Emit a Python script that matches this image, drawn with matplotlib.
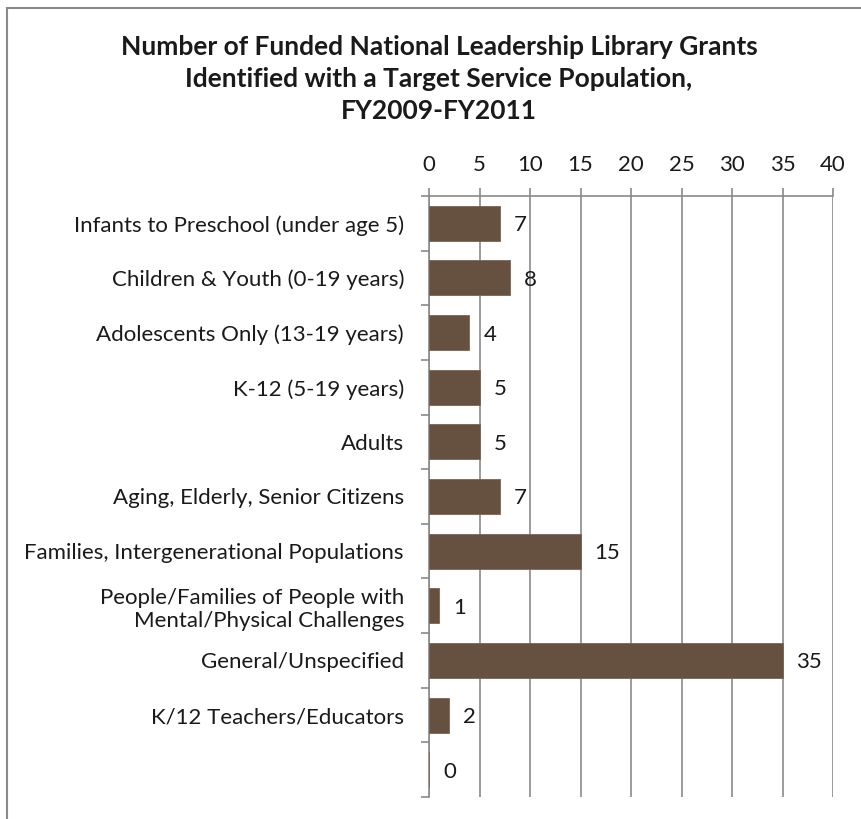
import matplotlib
matplotlib.use("Agg")
import matplotlib.pyplot as plt
from matplotlib.patches import Rectangle
import numpy as np

categories = [
    "Infants to Preschool (under age 5)",
    "Children & Youth (0-19 years)",
    "Adolescents Only (13-19 years)",
    "K-12 (5-19 years)",
    "Adults",
    "Aging, Elderly, Senior Citizens",
    "Families, Intergenerational Populations",
    "People/Families of People with\nMental/Physical Challenges",
    "General/Unspecified",
    "K/12 Teachers/Educators",
    "",
]
values = [7, 8, 4, 5, 5, 7, 15, 1, 35, 2, 0]
x_ticks = [0, 5, 10, 15, 20, 25, 30, 35, 40]
title = ("Number of Funded National Leadership Library Grants\n"
         "Identified with a Target Service Population,\n"
         "FY2009-FY2011")

W, H = 861, 819
plt.rcParams['font.family'] = ['Lato', 'DejaVu Sans']
fig = plt.figure(figsize=(W / 100, H / 100), dpi=100)

# outer chart frame (cropped at right and bottom)
fig.patches.append(Rectangle((7 / W, -0.05), 1.0, 1 - 8 / H + 0.05,
                             transform=fig.transFigure, fill=False,
                             edgecolor='#8a8a8a', linewidth=1.5))

ax_left, ax_right, ax_top, ax_bot = 429, 833, 196, 797
ax = fig.add_axes([ax_left / W, 1 - ax_bot / H, (ax_right - ax_left) / W,
                   (ax_bot - ax_top) / H])

FS = 16
n = len(categories)
y = np.arange(n)
ax.barh(y, values, height=0.64, color='#665040', edgecolor='#7a6556',
        linewidth=0.6, zorder=3)
for yi, v in zip(y, values):
    ax.annotate(str(v), (v, yi), xytext=(10, 0), textcoords='offset points',
                ha='left', va='center_baseline', fontsize=FS, color='#1a1a1a')

ax.set_xlim(0, 40)
ax.set_ylim(n - 0.5, -0.5)
ax.xaxis.tick_top()
ax.set_xticks(x_ticks)
ax.set_xticklabels([str(t) for t in x_ticks], fontsize=FS, color='#1a1a1a')
ax.tick_params(axis='x', direction='out', length=6, width=1.2,
               color='#8a8a8a', pad=9)
ax.grid(axis='x', color='#8a8a8a', linewidth=1.2, zorder=0)

ax.set_yticks(y)
ax.set_yticklabels(categories, fontsize=FS, color='#1a1a1a')
ax.tick_params(axis='y', which='major', length=0, pad=18)
ax.set_yticks(np.arange(n + 1) - 0.5, minor=True)
ax.tick_params(axis='y', which='minor', direction='out', length=6,
               width=1.2, color='#8a8a8a')

for s in ['right', 'bottom']:
    ax.spines[s].set_visible(False)
for s in ['top', 'left']:
    ax.spines[s].set_color('#8a8a8a')
    ax.spines[s].set_linewidth(1.2)

fig.text(439 / W, 1 - 79 / H, title, ha='center', va='center',
         fontsize=19, fontweight='bold', color='#1a1a1a', linespacing=1.38)

fig.savefig("out.png", dpi=100)
